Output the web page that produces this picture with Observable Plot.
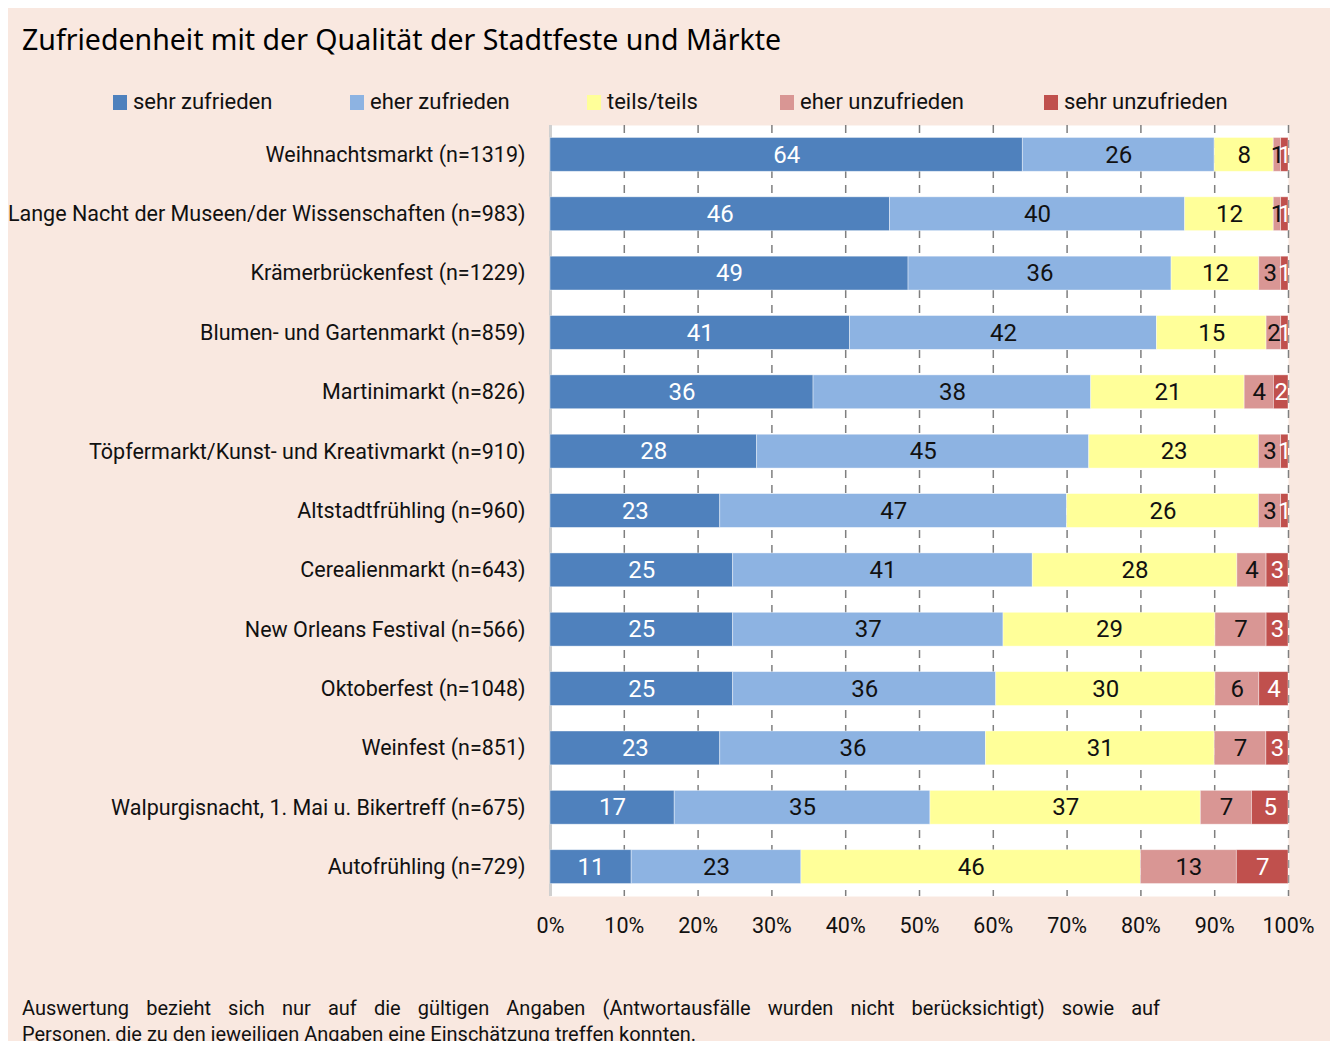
<!DOCTYPE html>
<html><head><meta charset="utf-8">
<script src="https://cdn.jsdelivr.net/npm/d3@7"></script>
<script src="https://cdn.jsdelivr.net/npm/@observablehq/plot@0.6"></script>
<style>
html,body{margin:0;padding:0;background:#fff;}
body{width:1336px;height:1041px;overflow:hidden;position:relative;font-family:Roboto,"Noto Sans",sans-serif;color:#111;}
#panel{position:absolute;left:8px;top:8px;width:1322px;height:1040px;background:#f9e8e0;}
#title{position:absolute;left:14px;top:16px;font-family:"Noto Sans",Roboto,sans-serif;font-size:28.5px;line-height:30px;font-weight:400;color:#000;white-space:nowrap;}
.item{position:absolute;top:79px;display:flex;align-items:center;font-size:22px;line-height:30px;white-space:nowrap;}
.sw{width:14px;height:15px;margin-right:6px;}
#chart{position:absolute;left:0;top:112px;}
.cap{position:absolute;left:14px;width:1138px;font-size:20px;line-height:26px;white-space:nowrap;}
#cap1{top:987px;text-align:justify;text-align-last:justify;white-space:normal;}
#cap2{top:1013px;}
</style></head>
<body>
<div id="panel">
  <div id="title"></div>
  <div id="legend"></div>
  <div id="chart"></div>
  <div class="cap" id="cap1"></div>
  <div class="cap" id="cap2"></div>
</div>
<script>
const titleText = "Zufriedenheit mit der Qualität der Stadtfeste und Märkte";
const captionLines = [
  "Auswertung bezieht sich nur auf die gültigen Angaben (Antwortausfälle wurden nicht berücksichtigt) sowie auf",
  "Personen, die zu den jeweiligen Angaben eine Einschätzung treffen konnten."
];
const events = [
  "Weihnachtsmarkt (n=1319)",
  "Lange Nacht der Museen/der Wissenschaften (n=983)",
  "Krämerbrückenfest (n=1229)",
  "Blumen- und Gartenmarkt (n=859)",
  "Martinimarkt (n=826)",
  "Töpfermarkt/Kunst- und Kreativmarkt (n=910)",
  "Altstadtfrühling (n=960)",
  "Cerealienmarkt (n=643)",
  "New Orleans Festival (n=566)",
  "Oktoberfest (n=1048)",
  "Weinfest (n=851)",
  "Walpurgisnacht, 1. Mai u. Bikertreff (n=675)",
  "Autofrühling (n=729)"
];
const categories = ["sehr zufrieden","eher zufrieden","teils/teils","eher unzufrieden","sehr unzufrieden"];
const sehrZufrieden    = [64,46,49,41,36,28,23,25,25,25,23,17,11];
const eherZufrieden    = [26,40,36,42,38,45,47,41,37,36,36,35,23];
const teilsTeils       = [ 8,12,12,15,21,23,26,28,29,30,31,37,46];
const eherUnzufrieden  = [ 1, 1, 3, 2, 4, 3, 3, 4, 7, 6, 7, 7,13];
const sehrUnzufrieden  = [ 1, 1, 1, 1, 2, 1, 1, 3, 3, 4, 3, 5, 7];
const xTicks = [0,10,20,30,40,50,60,70,80,90,100];

const colors = ["#4f81bd","#8db3e2","#ffff99","#d99694","#c0504d"];
const whiteText = new Set(["sehr zufrieden","sehr unzufrieden"]);
const series = [sehrZufrieden, eherZufrieden, teilsTeils, eherUnzufrieden, sehrUnzufrieden];

const data = [];
events.forEach((ev, i) => {
  categories.forEach((c, j) => data.push({event: ev, cat: c, value: series[j][i]}));
});

document.getElementById("title").textContent = titleText;
document.getElementById("cap1").textContent = captionLines[0];
document.getElementById("cap2").textContent = captionLines[1];

const legendLeft = [105, 342, 579, 772, 1036];
const legend = document.getElementById("legend");
categories.forEach((c, j) => {
  const it = document.createElement("div");
  it.className = "item";
  it.style.left = legendLeft[j] + "px";
  const sw = document.createElement("span");
  sw.className = "sw";
  sw.style.background = colors[j];
  it.appendChild(sw);
  it.appendChild(document.createTextNode(c));
  legend.appendChild(it);
});

const stackOpts = {x: "value", y: "event", z: "cat", order: categories, offset: "normalize"};
const fontFam = 'Roboto,"Noto Sans",sans-serif';

const plot = Plot.plot({
  width: 1322,
  height: 826,
  marginTop: 5,
  marginBottom: 50,
  marginLeft: 542,
  marginRight: 42,
  style: {background: "transparent", fontSize: "21.5px", fontFamily: fontFam, color: "#111", overflow: "visible"},
  x: {domain: [0, 1], ticks: xTicks.map(d => d / 100), tickFormat: d => Math.round(d * 100) + "%", tickSize: 0, tickPadding: 21, label: null},
  y: {domain: events, paddingInner: 0.43, paddingOuter: 0.21, round: false, tickSize: 0, tickPadding: 25, label: null},
  color: {domain: categories, range: colors},
  marks: [
    Plot.frame({fill: "white", stroke: null}),
    Plot.ruleX(xTicks.slice(1).map(d => d / 100), {stroke: "#7f7f7f", strokeWidth: 1.5, strokeDasharray: "8,7"}),
    Plot.ruleX([0], {stroke: "#d0d0d0", strokeWidth: 3}),
    Plot.barX(data, Plot.stackX({...stackOpts, fill: "cat", stroke: "white", strokeWidth: 0.8, strokeOpacity: 0.5})),
    Plot.text(data, Plot.stackX({...stackOpts, text: d => whiteText.has(d.cat) ? String(d.value) : "", fill: "white", fontSize: 24, clip: "frame"})),
    Plot.text(data, Plot.stackX({...stackOpts, text: d => whiteText.has(d.cat) ? "" : String(d.value), fill: "#111", fontSize: 24, clip: "frame"}))
  ]
});
document.getElementById("chart").appendChild(plot);
</script>
</body></html>
